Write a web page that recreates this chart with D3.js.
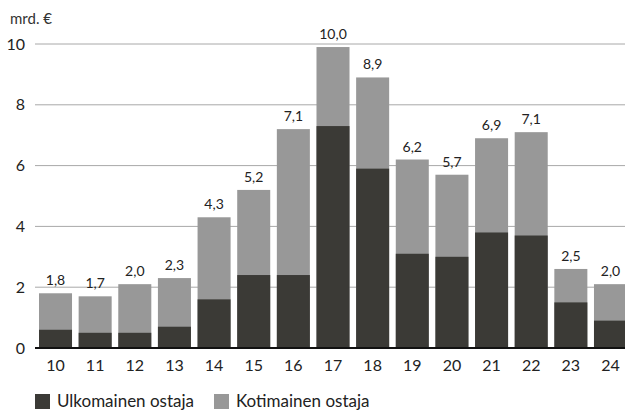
<!DOCTYPE html>
<html>
<head>
<meta charset="utf-8">
<script src="https://cdn.jsdelivr.net/npm/d3@7"></script>
<style>
  body { margin: 0; background: #fff; }
  text { font-family: Lato, "Open Sans", sans-serif; }
</style>
</head>
<body>
<div id="chart"></div>
<script>
// years (20xx)
var years = ["10", "11", "12", "13", "14", "15", "16", "17", "18", "19", "20", "21", "22", "23", "24"]
// foreign buyer, bn €
var foreign = [0.6, 0.5, 0.5, 0.7, 1.6, 2.4, 2.4, 7.3, 5.9, 3.1, 3.0, 3.8, 3.7, 1.5, 0.9]
// total bar height as drawn
var totals = [1.8, 1.7, 2.1, 2.3, 4.3, 5.2, 7.2, 9.9, 8.9, 6.2, 5.7, 6.9, 7.1, 2.6, 2.1]
// printed total labels
var totalLabels = ["1,8", "1,7", "2,0", "2,3", "4,3", "5,2", "7,1", "10,0", "8,9", "6,2", "5,7", "6,9", "7,1", "2,5", "2,0"]
var yTicks = [0, 2, 4, 6, 8, 10]
var seriesNames = ["Ulkomainen ostaja", "Kotimainen ostaja"]
var colors = ["#3b3a36", "#989898"]

var W = 625, H = 410
var margin = { top: 44, right: 0, bottom: 62, left: 35 }

var svg = d3.select("#chart").append("svg")
    .attr("width", W)
    .attr("height", H)

var x = d3.scaleBand()
    .domain(years)
    .range([39, 627])
    .paddingInner(0.167)
    .paddingOuter(0)

var y = d3.scaleLinear()
    .domain([0, 10])
    .range([H - margin.bottom, margin.top])

// gridlines
svg.append("g")
    .selectAll("line")
    .data(yTicks.filter(function (d) { return d > 0 }))
    .enter().append("line")
    .attr("x1", margin.left)
    .attr("x2", W)
    .attr("y1", function (d) { return y(d) })
    .attr("y2", function (d) { return y(d) })
    .attr("stroke", "#a8a8a8")
    .attr("stroke-width", 1)

// y axis labels
var yAxis = d3.axisLeft(y).tickValues(yTicks).tickSize(0).tickPadding(10)
var yg = svg.append("g")
    .attr("transform", "translate(" + margin.left + ",0)")
    .call(yAxis)
yg.select(".domain").remove()
yg.selectAll("text")
    .style("font-size", "16px")
    .style("font-family", "Lato, sans-serif")
    .attr("fill", "#222")

// bars
var data = years.map(function (yr, i) {
    return { year: yr, foreign: foreign[i], total: totals[i], label: totalLabels[i] }
})

var bars = svg.append("g").selectAll("g")
    .data(data)
    .enter().append("g")

bars.append("rect")
    .attr("x", function (d) { return x(d.year) })
    .attr("width", x.bandwidth())
    .attr("y", function (d) { return y(d.total) })
    .attr("height", function (d) { return y(0) - y(d.total) })
    .attr("fill", colors[1])

bars.append("rect")
    .attr("x", function (d) { return x(d.year) })
    .attr("width", x.bandwidth())
    .attr("y", function (d) { return y(d.foreign) })
    .attr("height", function (d) { return y(0) - y(d.foreign) })
    .attr("fill", colors[0])

bars.append("text")
    .attr("x", function (d) { return x(d.year) + x.bandwidth() / 2 })
    .attr("y", function (d) { return y(d.total) - 8 })
    .attr("text-anchor", "middle")
    .style("font-size", "14px")
    .attr("fill", "#222")
    .text(function (d) { return d.label })

// x axis
var xAxis = d3.axisBottom(x).tickSize(0).tickPadding(12)
var xg = svg.append("g")
    .attr("transform", "translate(0," + y(0) + ")")
    .call(xAxis)
xg.select(".domain").remove()
xg.selectAll("text")
    .style("font-size", "16px")
    .style("font-family", "Lato, sans-serif")
    .attr("fill", "#222")

svg.append("line")
    .attr("x1", margin.left)
    .attr("x2", W)
    .attr("y1", y(0))
    .attr("y2", y(0))
    .attr("stroke", "#111")
    .attr("stroke-width", 2)

// unit label
svg.append("text")
    .attr("x", 10)
    .attr("y", 24)
    .style("font-size", "15px")
    .attr("fill", "#333")
    .text("mrd. €")

// legend
var legendX = [35, 214]
var legend = svg.append("g").selectAll("g")
    .data(seriesNames)
    .enter().append("g")
    .attr("transform", function (d, i) { return "translate(" + legendX[i] + ",394)" })

legend.append("rect")
    .attr("width", 15)
    .attr("height", 15)
    .attr("fill", function (d, i) { return colors[i] })

legend.append("text")
    .attr("x", 22)
    .attr("y", 13)
    .style("font-size", "17px")
    .attr("fill", "#222")
    .text(function (d) { return d })
</script>
</body>
</html>
